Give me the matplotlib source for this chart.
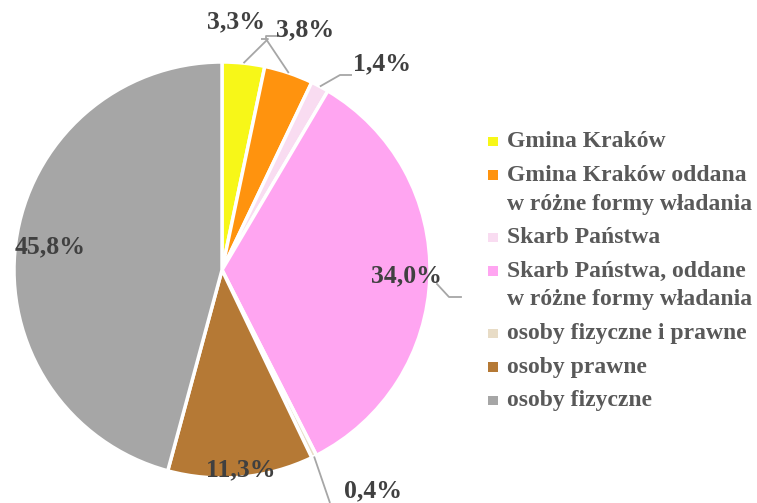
import numpy as np
import matplotlib

matplotlib.use('Agg')
import matplotlib.pyplot as plt
from matplotlib.patches import Rectangle

W, H = 757, 503

categories = ['Gmina Kraków',
              'Gmina Kraków oddana\nw różne formy władania',
              'Skarb Państwa',
              'Skarb Państwa, oddane\nw różne formy władania',
              'osoby fizyczne i prawne',
              'osoby prawne',
              'osoby fizyczne']
shares = [3.3, 3.8, 1.4, 34.0, 0.4, 11.3, 45.8]
labels = ['3,3%', '3,8%', '1,4%', '34,0%', '0,4%', '11,3%', '45,8%']
colors = ['#F7F718', '#FF930E', '#F9DCF1', '#FFA5F1', '#E8DCC6', '#B57935', '#A6A6A6']

# pie geometry in pixel units (y measured from top)
CX, CY, R = 222, 270, 208

# label placement: inside labels at a fraction of the radius, outside labels at a point with a leader
inside = {3: 0.885, 5: 0.965, 6: 0.835}
outside = {0: (236, 22), 1: (305, 30), 2: (382, 64), 4: (373, 491)}
leaders = {0: [(268, 39), (261, 39)],
           1: [(266, 39), (266, 36), (278, 36)],
           2: [(340, 75), (352, 75)],
           4: [(330, 503)]}
leader_34 = [(437, 284), (449, 297), (461, 297)]

# legend layout (pixels)
LEG_X, LEG_TOP, ITEM_GAP, LINE_H, SQ = 488, 147, 33.5, 29, 9.5

plt.rcParams['font.family'] = ['Liberation Serif', 'DejaVu Serif']
fig = plt.figure(figsize=(W / 100, H / 100), dpi=100)
ax = fig.add_axes([0, 0, 1, 1])


def py(y):
    return H - y


wedges, _ = ax.pie(shares, colors=colors, startangle=90, counterclock=False,
                   center=(CX, py(CY)), radius=R, frame=True,
                   wedgeprops=dict(edgecolor='white', linewidth=2.5))
ax.set_xlim(0, W)
ax.set_ylim(0, H)
ax.axis('off')

cum = np.cumsum([0] + shares[:-1])
mids = (cum + np.array(shares) / 2) / 100 * 360
txt = '#404040'
line_c = '#A6A6A6'

for i, lab in enumerate(labels):
    a = np.deg2rad(mids[i])
    ex, ey = CX + R * np.sin(a), CY - R * np.cos(a)
    if i in inside:
        f = inside[i]
        tx, ty = CX + f * R * np.sin(a), CY - f * R * np.cos(a)
    else:
        tx, ty = outside[i]
        pts = [(ex, ey)] + leaders[i]
        ax.plot([p[0] for p in pts], [py(p[1]) for p in pts], color=line_c, lw=1.3,
                solid_capstyle='butt', zorder=3)
    ax.text(tx, py(ty), lab, ha='center', va='center', fontsize=18.5,
            fontweight='bold', color=txt, zorder=4)

ax.plot([p[0] for p in leader_34], [py(p[1]) for p in leader_34], color=line_c, lw=1.3, zorder=3)

# legend drawn by hand so the marker sits on the first line of each entry
base = LEG_TOP
for cat, c in zip(categories, colors):
    ax.add_patch(Rectangle((LEG_X, py(base - 1)), SQ, SQ, facecolor=c, edgecolor='none'))
    for k, line in enumerate(cat.split('\n')):
        ax.text(LEG_X + 19, py(base + k * LINE_H), line, ha='left', va='baseline',
                fontsize=17, fontweight='bold', color='#595959')
    base += (cat.count('\n')) * LINE_H + ITEM_GAP

fig.savefig('out.png', dpi=100)
